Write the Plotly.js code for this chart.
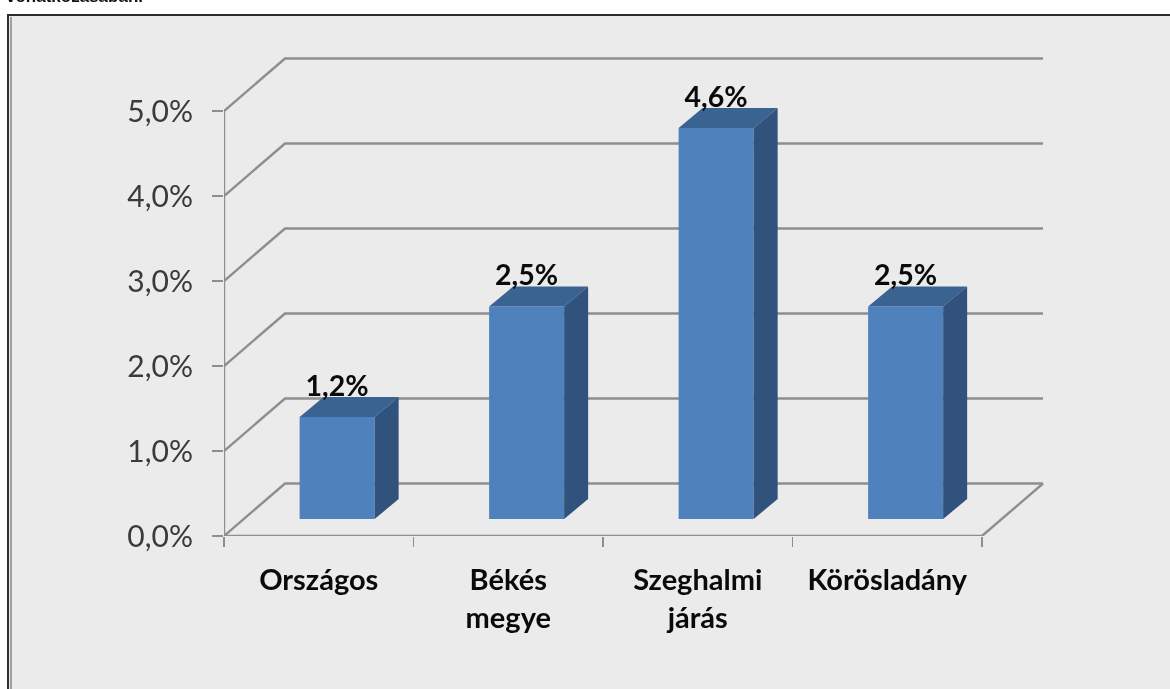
<!DOCTYPE html>
<html>
<head>
<meta charset="utf-8">
<script src="https://cdn.plot.ly/plotly-3.0.1.min.js"></script>
<style>html,body{margin:0;padding:0;background:#fff;overflow:hidden}#chart{width:1170px;height:689px;filter:blur(0.5px)}</style>
</head>
<body>
<div id="chart"></div>
<script>
var categories = ["Országos", "Békés<br>megye", "Szeghalmi<br>járás", "Körösladány"];
var values = [1.2, 2.5, 4.6, 2.5];
var valueLabels = ["1,2%", "2,5%", "4,6%", "2,5%"];
var yTicks = [0, 1, 2, 3, 4, 5];
var yTickLabels = ["0,0%", "1,0%", "2,0%", "3,0%", "4,0%", "5,0%"];
var xTicks = [0, 1, 2, 3, 4];

var L = 224, T = 50, R = 1050, B = 536;
var xUnit = 189.5, yUnit = 85;
var xMax = (R - L) / xUnit, yMax = (B - T) / yUnit;
var wallDx = 61 / xUnit, wallDy = 52.5 / yUnit, backRight = 4 + wallDx;
var barOffsetX = 0.097, barBase = 0.2, barWidth = 0.396;
var faceDx = 24 / xUnit, faceDy = 20 / yUnit, labelDrop = 0.072;
var GREY = "#8e8e8e";

function px(v) { return (v - L) / (R - L); }
function py(v) { return (B - v) / (B - T); }

var centers = categories.map(function (_, i) { return i + 0.5; });
var barX = centers.map(function (c) { return c + barOffsetX; });

var shapes = [
  { type: "rect", xref: "paper", yref: "paper", layer: "below", x0: px(8), x1: px(1200), y0: py(15), y1: py(720),
    fillcolor: "#ebebeb", line: { color: "#2e2e2e", width: 2 } },
  { type: "line", xref: "paper", yref: "paper", layer: "below", x0: px(11), x1: px(11), y0: py(17), y1: py(720),
    line: { color: "#a0a0a0", width: 2 } }
];
function gridShape(path, w) {
  return { type: "path", xref: "x", yref: "y", layer: "below", path: path, line: { color: GREY, width: w || 2.4 } };
}
yTicks.forEach(function (v) {
  shapes.push(gridShape("M 0 " + v + " L " + wallDx + " " + (v + wallDy) + " L " + backRight + " " + (v + wallDy)));
});
shapes.push(gridShape("M 0 0 L 0 5"));
shapes.push(gridShape("M 0 0 L 4 0 L " + backRight + " " + wallDy));

var traces = [{
  type: "bar", x: barX, y: values, base: values.map(function () { return barBase; }), width: barWidth,
  marker: { color: "#4f81bd", line: { width: 0 } }, hoverinfo: "skip", showlegend: false
}];
function face(xs, ys, color) {
  return { type: "scatter", mode: "none", x: xs, y: ys, fill: "toself", fillcolor: color, hoverinfo: "skip", showlegend: false };
}
values.forEach(function (v, i) {
  var x0 = barX[i] - barWidth / 2, x1 = barX[i] + barWidth / 2, y0 = barBase, y1 = barBase + v;
  traces.push(face([x0, x1, x1 + faceDx, x0 + faceDx, x0], [y1, y1, y1 + faceDy, y1 + faceDy, y1], "#3b6391"));
  traces.push(face([x1, x1 + faceDx, x1 + faceDx, x1, x1], [y0, y0 + faceDy, y1 + faceDy, y1, y0], "#30527c"));
});
traces.push({
  type: "scatter", mode: "text", cliponaxis: false, x: barX,
  y: values.map(function (v) { return v + barBase + faceDy - labelDrop; }),
  text: valueLabels, textposition: "top center",
  textfont: { family: "Lato", size: 28.5, color: "#0a0a0a", weight: 700 },
  hoverinfo: "skip", showlegend: false
});

var layout = {
  width: 1170, height: 689, autosize: false, showlegend: false, hovermode: false,
  paper_bgcolor: "#ffffff", plot_bgcolor: "rgba(0,0,0,0)",
  margin: { l: L, r: 1170 - R, t: T, b: 689 - B, pad: 0 },
  shapes: shapes,
  xaxis: {
    range: [0, xMax], showgrid: false, zeroline: false, showline: false,
    tickmode: "array", tickvals: centers, ticktext: categories, ticks: "", ticklabelstandoff: 24,
    tickfont: { family: "Lato", size: 29, color: "#0a0a0a", weight: 700 },
    minor: { tickmode: "array", tickvals: xTicks, ticks: "outside", ticklen: 10, tickwidth: 1.5, tickcolor: GREY, showgrid: false }
  },
  yaxis: {
    range: [0, yMax], showgrid: false, zeroline: false, showline: false,
    tickmode: "array", tickvals: yTicks, ticktext: yTickLabels, ticks: "outside", ticklen: 11, tickwidth: 1.5, tickcolor: GREY,
    ticklabelstandoff: 13,
    tickfont: { family: "Lato", size: 30, color: "#3a3a3a" }
  },
  annotations: [{
    xref: "paper", yref: "paper", x: px(4), y: py(8), xanchor: "left", yanchor: "bottom", showarrow: false,
    text: "vonatkozásában.", font: { family: "Liberation Sans", size: 17, color: "#111111", weight: 700 }
  }]
};
Plotly.newPlot("chart", traces, layout, { displayModeBar: false, staticPlot: true });
</script>
</body>
</html>
